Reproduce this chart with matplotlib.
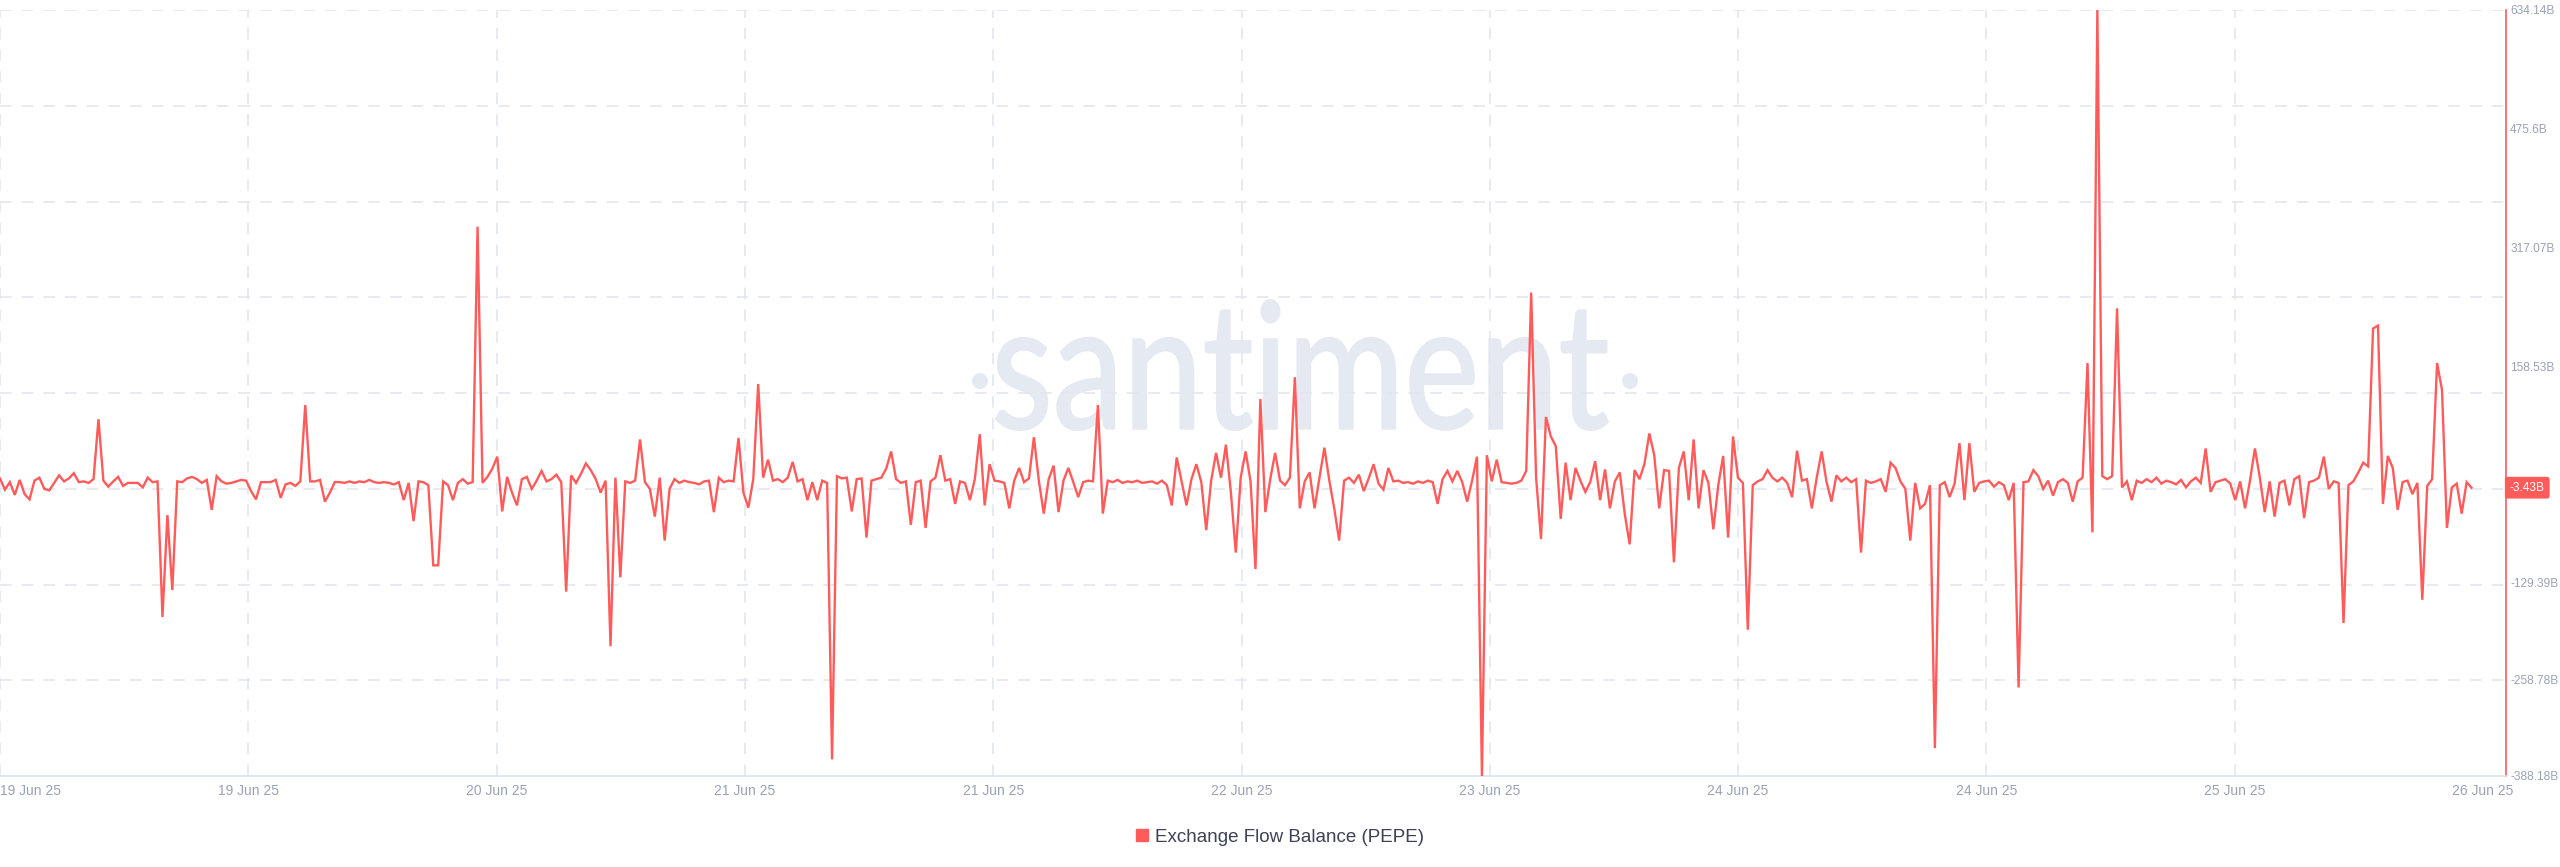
import matplotlib
matplotlib.use("Agg")
import matplotlib.pyplot as plt
from matplotlib.lines import Line2D
from matplotlib.textpath import TextPath
from matplotlib.patches import PathPatch, Circle
from matplotlib.font_manager import FontProperties, fontManager
from matplotlib.transforms import Affine2D, IdentityTransform, blended_transform_factory

# ---------------- data (billions of PEPE) ----------------
flow_balance_b = [
    9, -6, 4, -13, 7, -12, -19, 6, 10, -5,
    -7, 3, 13, 5, 9, 16, 4, 5, 3, 8,
    88, 6, -2, 5, 11, -1, 3, 3, 3, -3,
    10, 4, 5, -176, -40, -140, 5, 4, 9, 11,
    8, 3, 7, -33, 12, 5, 2, 3, 5, 7,
    6, -8, -19, 4, 4, 4, 7, -17, 1, 3,
    -1, 5, 107, 5, 5, 7, -22, -10, 4, 4,
    3, 5, 3, 5, 4, 7, 4, 3, 4, 3,
    1, 4, -20, 3, -48, 5, 4, 0, -107, -107,
    5, 0, -20, 3, 8, 2, 4, 345, 3, 11,
    22, 38, -35, 11, -10, -27, 8, 11, -5, 6,
    19, 5, 8, 14, 4, -142, 13, 3, 15, 29,
    20, 8, -10, 6, -215, 10, -123, 5, 3, 6,
    61, 4, -5, -42, 10, -74, -5, 8, 3, 6,
    4, 3, 1, 5, 6, -36, 10, 4, 6, 5,
    63, -10, -30, 8, 135, 10, 34, 6, 8, 4,
    10, 31, 5, 8, -20, 4, -20, 6, 3, -366,
    12, 9, 10, -35, 8, 9, -70, 6, 8, 10,
    22, 45, 8, 3, 5, -53, 4, 6, -57, 5,
    10, 40, 6, 8, -25, 5, 3, -20, 8, 68,
    -27, 28, 6, 5, 3, -31, 6, 23, 4, 9,
    64, 6, -38, 8, 26, -36, 6, 23, 4, -16,
    4, 6, 5, 107, -38, 6, 4, 7, 3, 5,
    4, 6, 3, 4, 5, 2, 6, 0, -27, 37,
    5, -27, 8, 28, 4, -60, 6, 43, 10, 54,
    -9, -90, 10, 45, 5, -112, 115, -36, 8, 43,
    6, 0, 10, 144, -31, 5, 17, -31, 10, 50,
    6, -31, -74, 6, 10, 3, 14, -8, 9, 28,
    2, -6, 23, 5, 6, 3, 4, 2, 5, 3,
    6, 4, -25, 8, 19, 5, 19, 4, -22, 6,
    38, -388.18, 40, 5, 34, 4, 3, 2, 3, 6,
    19, 257, 10, -72, 91, 65, 52, -45, 30, -20,
    23, 6, -9, 4, 32, -20, 21, -31, 5, 17,
    -38, -79, 20, 8, 28, 69, 40, -31, 20, 19,
    -103, 23, 45, -20, 61, -31, 20, 3, -59, 0,
    39, -70, 65, 10, 3, -193, 0, 5, 8, 20,
    10, 5, 10, 3, -16, 46, 6, 8, -31, 10,
    45, 4, -22, 13, 5, 10, 4, 8, -90, 6,
    3, 5, 8, -9, 30, 23, 5, -5, -74, 3,
    -31, -25, 0, -351, 0, 4, -16, 2, 56, -20,
    56, -9, 3, 5, 6, -2, 4, 0, -20, 3,
    -270, 4, 5, 20, 12, -5, 6, -14, 4, 8,
    3, -22, 5, 10, 163, -63, 634.14, 12, 8, 12,
    236, -3, 5, -20, 6, 3, 8, 4, 10, 2,
    6, 4, 1, 7, -3, 5, 10, 3, 49, -9,
    4, 6, 8, 2, -20, 5, -31, 6, 49, 10,
    -36, 5, -42, 3, 6, -27, 8, 12, -44, 4,
    6, 10, 38, -5, 5, 3, -184, 0, 5, 17,
    30, 25, 209, 213, -25, 39, 23, -33, 4, 6,
    -12, 3, -153, -1, 8, 163, 127, -57, -3, 2,
    -38, 4, -3.43,
]

date_labels = ["19 Jun 25", "19 Jun 25", "20 Jun 25", "21 Jun 25", "21 Jun 25",
               "22 Jun 25", "23 Jun 25", "24 Jun 25", "24 Jun 25", "25 Jun 25",
               "26 Jun 25"]

y_min_b = -388.18
y_max_b = 634.14
y_tick_values = [634.14, 475.6, 317.07, 158.53, -129.39, -258.78, -388.18]
y_tick_labels = ["634.14B", "475.6B", "317.07B", "158.53B", "-129.39B", "-258.78B", "-388.18B"]
last_value_label = "-3.43B"
series_name = "Exchange Flow Balance (PEPE)"

# ---------------- style ----------------
RED = "#ff5b5b"
GRID = "#e3e6ee"
TICK_COL = "#9aa2b6"
W, H = 2560, 867
DPI = 100

installed = {f.name for f in fontManager.ttflist}
if "Liberation Sans Narrow" in installed:
    YFONT, YSIZE = "Liberation Sans Narrow", 10
else:
    YFONT, YSIZE = "Liberation Sans", 8.6

fig = plt.figure(figsize=(W / DPI, H / DPI), dpi=DPI)
fig.patch.set_facecolor("white")
ax = fig.add_axes([0.0, 1 - 776 / H, 2506 / W, (776 - 10) / H])
ax.set_facecolor("white")

n = len(flow_balance_b)
x = list(range(n))
x_max = (n - 1) * 1527.0 / 1506.0
ax.set_xlim(0, x_max)
ax.set_ylim(y_min_b, y_max_b)

# grid: 8 even horizontal bands
for k in range(1, 9):
    yv = y_min_b + k * (y_max_b - y_min_b) / 8
    ax.axhline(yv, color=GRID, lw=1.2, dashes=(7, 6), zorder=1)

tick_step = (n - 1) * 1513.0 / 1506.0 / 10
xticks = [k * tick_step for k in range(len(date_labels))]
for k in range(10):
    ax.axvline(xticks[k], color=GRID, lw=1.2, dashes=(7, 6), zorder=1)

# watermark
fp = FontProperties(family="Lato")
tp = TextPath((0, 0), "santiment", size=100, prop=fp)
ext = tp.get_extents()
x0, x1 = 996, 1608
yb, yt = H - 430, H - 300
tr = Affine2D().translate(-ext.x0, -ext.y0).scale((x1 - x0) / ext.width, (yt - yb) / ext.height).translate(x0, yb)
wm = PathPatch(tr.transform_path(tp), facecolor="#e5e9f2", edgecolor="#e5e9f2", lw=1.5,
               transform=IdentityTransform(), zorder=0.5)
ax.add_patch(wm)
for cx in (980, 1630):
    ax.add_patch(Circle((cx, H - 381), 8, facecolor="#e5e9f2", edgecolor="none",
                        transform=IdentityTransform(), zorder=0.5))

# series
ax.plot(x, flow_balance_b, color=RED, lw=1.7, zorder=3, solid_joinstyle="miter")

# spines
for s in ("top", "left"):
    ax.spines[s].set_visible(False)
ax.spines["right"].set_color(RED)
ax.spines["right"].set_linewidth(1.2)
ax.spines["bottom"].set_color("#dde1ea")
ax.spines["bottom"].set_linewidth(1.2)

# y ticks on right
ax.yaxis.tick_right()
ax.set_yticks(y_tick_values)
ax.set_yticklabels(y_tick_labels)
ax.tick_params(axis="y", length=0, pad=3, labelsize=YSIZE, labelcolor=TICK_COL)
for lab in ax.get_yticklabels():
    lab.set_fontfamily(YFONT)

# x ticks
ax.set_xticks(xticks)
ax.set_xticklabels(date_labels)
ax.tick_params(axis="x", length=0, pad=6, labelsize=10, labelcolor=TICK_COL)
for i, lab in enumerate(ax.get_xticklabels()):
    lab.set_fontfamily("Liberation Sans")
    if i == 0:
        lab.set_horizontalalignment("left")

# last value badge
btr = blended_transform_factory(ax.transAxes, ax.transData)
ax.text(1.0015, flow_balance_b[-1], last_value_label, transform=btr, ha="left", va="center",
        fontsize=YSIZE, color="white", family=YFONT, clip_on=False, zorder=5,
        bbox=dict(boxstyle="round,pad=0.35,rounding_size=0.15", facecolor=RED, edgecolor=RED))

# legend
handle = Line2D([], [], marker="s", color=RED, linestyle="none", markersize=8)
leg = fig.legend([handle], [series_name], loc="center", bbox_to_anchor=(1278 / W, 1 - 837 / H),
                 frameon=False, handletextpad=0.2, handlelength=1.0,
                 prop=FontProperties(family="Liberation Sans", size=13.5))
for t in leg.get_texts():
    t.set_color("#3d4255")

fig.savefig("out.png", dpi=DPI, facecolor="white")
